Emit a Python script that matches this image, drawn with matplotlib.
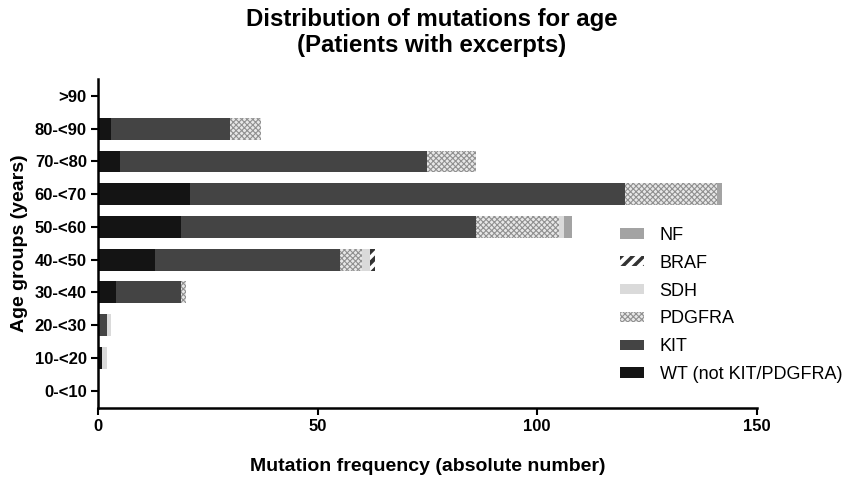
import matplotlib
matplotlib.use("Agg")
from matplotlib import pyplot as plt
import numpy as np

plt.rcParams["font.family"] = ["Liberation Sans", "DejaVu Sans"]

# age groups, bottom to top
AGE_GROUPS = ["0-<10", "10-<20", "20-<30", "30-<40", "40-<50",
              "50-<60", "60-<70", "70-<80", "80-<90", ">90"]

WT = [0, 1, 0, 4, 13, 19, 21, 5, 3, 0]
KIT = [0, 0, 2, 15, 42, 67, 99, 70, 27, 0]
PDGFRA = [0, 0, 0, 1, 5, 19, 21, 11, 7, 0]
SDH = [0, 1, 1, 0, 2, 1, 0, 0, 0, 0]
BRAF = [0, 0, 0, 0, 1, 0, 0, 0, 0, 0]
NF = [0, 0, 0, 0, 0, 2, 1, 0, 0, 0]

SERIES = [
    # label, values, face, hatch colour, hatch, hatch linewidth
    ("WT (not KIT/PDGFRA)", WT, "#141414", "#141414", None, 1.0),
    ("KIT", KIT, "#444444", "#444444", None, 1.0),
    ("PDGFRA", PDGFRA, "#e8e8e8", "#909090", "xxxxxx", 0.8),
    ("SDH", SDH, "#dadada", "#dadada", None, 1.0),
    ("BRAF", BRAF, "#ffffff", "#333333", "///", 3.0),
    ("NF", NF, "#a3a3a3", "#a3a3a3", None, 1.0),
]


def set_hlw(patch, lw):
    if hasattr(patch, "set_hatch_linewidth"):
        patch.set_hatch_linewidth(lw)
    else:
        patch._hatch_linewidth = lw


def main():
    fig = plt.figure(figsize=(8.64, 4.9), dpi=100)
    ax = fig.add_axes([0.1134, 0.1673, 0.876 - 0.1134, 0.8388 - 0.1673])

    y = np.arange(len(AGE_GROUPS))
    left = np.zeros(len(AGE_GROUPS))
    handles = []
    for label, vals, face, hcol, hatch, hlw in SERIES:
        vals = np.array(vals, dtype=float)
        with plt.rc_context({"hatch.linewidth": hlw}):
            bars = ax.barh(y, vals, left=left, height=0.67, color=face,
                           edgecolor=hcol, linewidth=0, hatch=hatch,
                           label=label)
        for p in bars.patches:
            set_hlw(p, hlw)
        handles.append(bars)
        left += vals

    ax.set_xlim(0, 150)
    ax.set_ylim(-0.53, 9.52)
    ax.set_xticks([0, 50, 100, 150])
    ax.set_yticks(y)
    ax.set_yticklabels(AGE_GROUPS)
    for lbl in ax.get_xticklabels() + ax.get_yticklabels():
        lbl.set_fontweight("bold")
        lbl.set_fontsize(12)
    ax.tick_params(length=5, width=1.5, pad=3)

    for side in ("top", "right"):
        ax.spines[side].set_visible(False)
    for side in ("left", "bottom"):
        ax.spines[side].set_linewidth(1.8)

    ax.set_xlabel("Mutation frequency (absolute number)", fontsize=14,
                  fontweight="bold", labelpad=17)
    ax.set_ylabel("Age groups (years)", fontsize=14, fontweight="bold",
                  labelpad=5)
    fig.suptitle("Distribution of mutations for age\n(Patients with excerpts)",
                 fontsize=17.3, fontweight="bold", y=0.984, linespacing=1.2)

    leg = ax.legend(handles[::-1], [s[0] for s in SERIES][::-1],
                    loc="upper left", bbox_to_anchor=(0.7675, 0.60),
                    frameon=False, fontsize=13, handlelength=1.35,
                    handleheight=0.5, labelspacing=0.6,
                    handletextpad=0.85)
    for h, s in zip(leg.legend_handles, SERIES[::-1]):
        set_hlw(h, 2.5 if s[0] == "BRAF" else s[5])

    fig.savefig("out.png", dpi=100)


if __name__ == "__main__":
    main()
